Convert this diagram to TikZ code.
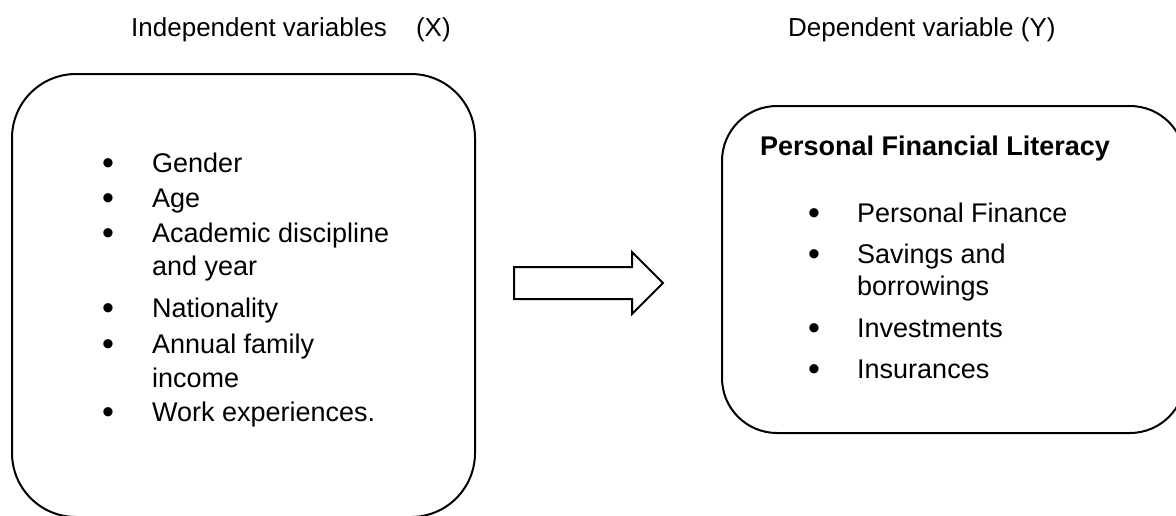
\documentclass[tikz,border=0pt]{standalone}
\usepackage{fontspec}
\setmainfont{Liberation Sans}
\newcommand{\itembul}[1]{\makebox[#1][l]{\hspace{-1.5pt}\raisebox{-2.5pt}{\fontsize{34}{34}\selectfont •}}}
\begin{document}
\begin{tikzpicture}[x=1pt,y=-1pt,
  box/.style={draw=black,line width=2pt,minimum width=463pt,inner sep=0pt},
  hdr/.style={anchor=base west,inner sep=0pt,font=\fontsize{26}{30}\selectfont},
  itm/.style={anchor=base west,inner sep=0pt,font=\fontsize{27}{32}\selectfont},
  ttl/.style={anchor=base west,inner sep=0pt,font=\fontsize{27}{32}\selectfont\bfseries},
  bigarrow/.style={draw=black,line width=2pt,line join=miter,fill=white}]
\useasboundingbox (0,0) rectangle (1176,515);
\clip (0,0) rectangle (1176,515);
% headers
\node[hdr] (hx) at (131,36) {Independent variables\hspace{29pt}(X)};
\node[hdr] (hy) at (788,36) {Dependent variable (Y)};
% boxes
\node[box,rounded corners=64pt,minimum height=443pt] (indep) at (243.5,295.5) {};
\node[box,rounded corners=55pt,minimum height=327pt] (dep) at (953.5,269.5) {};
% arrow
\draw[bigarrow] (514,267) -- (632,267) -- (632,252) -- (663,283) -- (632,314) -- (632,299) -- (514,299) -- cycle;
% left list
\node[itm] (l1) at (103.5,172) {\itembul{48.5pt}Gender};
\node[itm] (l2) at (103.5,207) {\itembul{48.5pt}Age};
\node[itm] (l3) at (103.5,242) {\itembul{48.5pt}Academic discipline};
\node[itm] (l3b) at (152,275) {and year};
\node[itm] (l4) at (103.5,317) {\itembul{48.5pt}Nationality};
\node[itm] (l5) at (103.5,353) {\itembul{48.5pt}Annual family};
\node[itm] (l5b) at (152,387) {income};
\node[itm] (l6) at (103.5,421) {\itembul{48.5pt}Work experiences.};
% right list
\node[ttl] (t) at (760,155) {Personal Financial Literacy};
\node[itm] (r1) at (809.5,222) {\itembul{47.5pt}Personal Finance};
\node[itm] (r2) at (809.5,263) {\itembul{47.5pt}Savings and};
\node[itm] (r2b) at (857,295) {borrowings};
\node[itm] (r3) at (809.5,337) {\itembul{47.5pt}Investments};
\node[itm] (r4) at (809.5,378) {\itembul{47.5pt}Insurances};
\end{tikzpicture}
\end{document}
